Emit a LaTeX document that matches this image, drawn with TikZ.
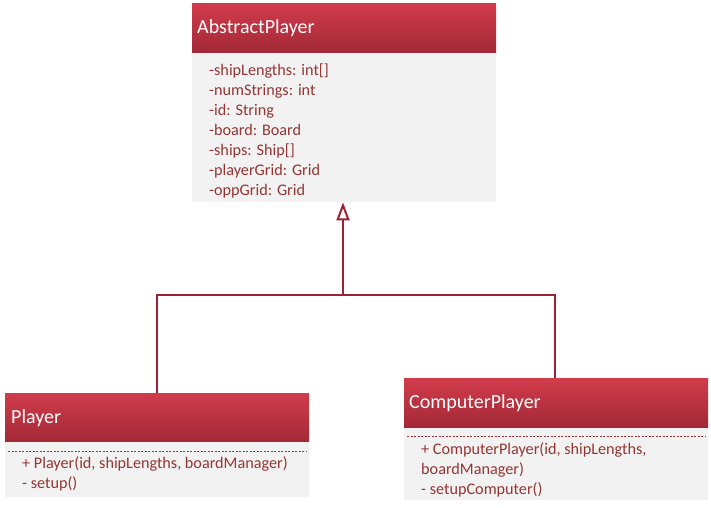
\documentclass[tikz,border=0pt]{standalone}
\usepackage{fontspec}
\setmainfont{Carlito}
\usetikzlibrary{arrows.meta}
\definecolor{hdtop}{HTML}{D13C4B}
\definecolor{hdbot}{HTML}{A22836}
\definecolor{bodyfill}{HTML}{F2F2F2}
\definecolor{txt}{HTML}{943634}
\definecolor{lnk}{HTML}{9B2335}
\tikzset{
  hdr/.style={anchor=north west, inner sep=0pt, draw=none, top color=hdtop, bottom color=hdbot, minimum width=304pt, minimum height=50pt},
  bdy/.style={anchor=north west, inner sep=0pt, draw=none, fill=bodyfill, minimum width=304pt},
  hdtext/.style={anchor=west, inner sep=0pt, text=white, font=\fontsize{20}{24}\selectfont},
  bdtext/.style={anchor=north west, inner sep=0pt, text=txt, align=left, font=\fontsize{16.2}{20}\selectfont},
  sep/.style={draw=txt, dashed, dash pattern=on 2pt off 1.5pt, line width=0.8pt},
  inh/.style={draw=lnk, line width=2pt, -{Triangle[open, length=18pt, width=13pt, line width=2pt]}},
}
\begin{document}
\begin{tikzpicture}[x=1pt, y=-1pt]
\useasboundingbox (0,0) rectangle (711,507);
% AbstractPlayer
\node[hdr] (aph) at (192,3) {};
\node[bdy, minimum height=149pt] (apb) at (192,53) {};
\node[hdtext] (apt) at (197,28.5) {AbstractPlayer};
\node[bdtext] (apa) at (209,64) {-shipLengths: int[]\\-numStrings: int\\-id: String\\-board: Board\\-ships: Ship[]\\-playerGrid: Grid\\-oppGrid: Grid};
% Player
\node[hdr, minimum height=49pt] (ph) at (5,393) {};
\node[bdy, minimum height=55pt] (pb) at (5,442) {};
\node[hdtext] (pt) at (11,418.5) {Player};
\coordinate (ps1) at (8,451);
\coordinate (ps2) at (306,451);
\draw[sep] (ps1) -- (ps2);
\node[bdtext] (pm) at (22,456) {+ Player(id, shipLengths, boardManager)\\- setup()};
% ComputerPlayer
\node[hdr] (ch) at (404,378) {};
\node[bdy, minimum height=72pt] (cb) at (404,428) {};
\node[hdtext] (ct) at (409,403.5) {ComputerPlayer};
\coordinate (cs1) at (407,436);
\coordinate (cs2) at (705,436);
\draw[sep] (cs1) -- (cs2);
\node[bdtext] (cm) at (421,442) {+ ComputerPlayer(id, shipLengths,\\boardManager)\\- setupComputer()};
% inheritance
\coordinate (j) at (343,295);
\draw[inh] (ph.north -| 157,0) |- (j) -- (apb.south -| j);
\draw[draw=lnk, line width=2pt] (ch.north -| 555,0) |- (j);
\end{tikzpicture}
\end{document}
